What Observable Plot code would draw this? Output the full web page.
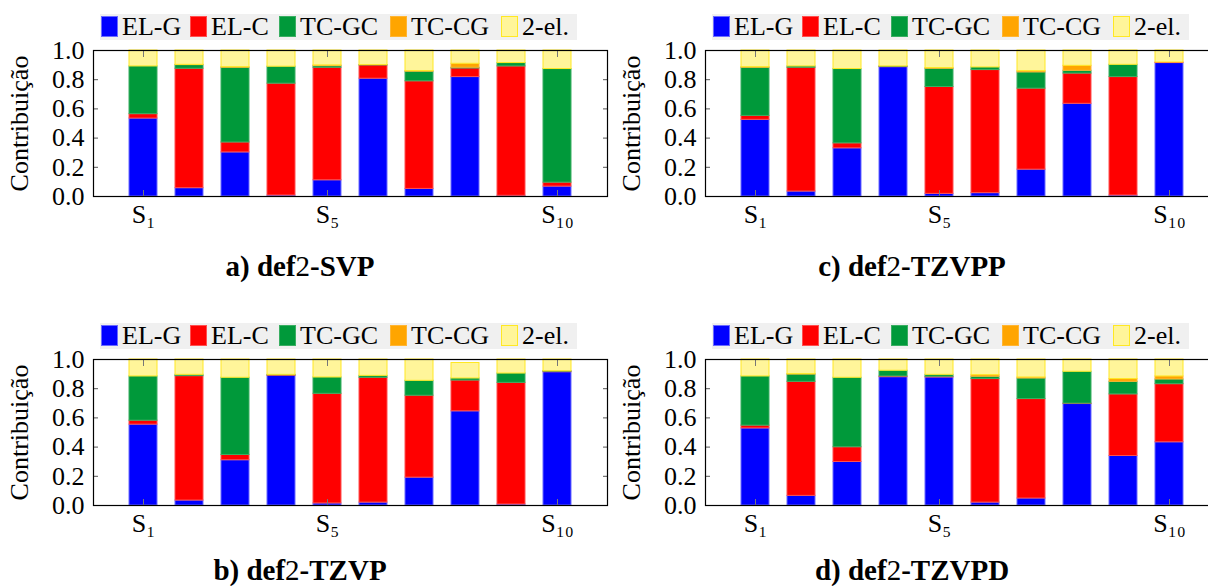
<!DOCTYPE html>
<html>
<head>
<meta charset="utf-8">
<script src="https://cdn.jsdelivr.net/npm/d3@7"></script>
<script src="https://cdn.jsdelivr.net/npm/@observablehq/plot@0.6"></script>
<style>
  html, body { margin: 0; padding: 0; background: #fff; overflow: hidden; }
  #root { position: relative; width: 1208px; height: 586px; overflow: hidden; font-family: "Liberation Serif", serif; }
  .panel { position: absolute; width: 620px; height: 300px; }
  .panel svg { position: absolute; left: 0; top: 0; }
  .legend { position: absolute; left: 100px; top: 14px; width: 477px; height: 26px; background: #f0f0f0; }
  .item { position: absolute; top: 0; height: 26px; }
  .sw { position: absolute; top: 2px; left: 0; width: 17px; height: 21px; box-sizing: border-box; }
  .lt { position: absolute; left: 21px; top: -2px; font-size: 26px; line-height: 30px; white-space: nowrap; color: #000; }
  .title { position: absolute; left: 0; width: 600px; text-align: center; font-size: 29px; line-height: 20px; font-weight: bold; color: #000; }
  .title span { font-weight: normal; }
</style>
</head>
<body>
<div id="root"></div>
<script>
// ---- categories ----
const states = ["S1","S2","S3","S4","S5","S6","S7","S8","S9","S10"];
const labeledStates = ["S1","S5","S10"];
const seriesNames = ["EL-G","EL-C","TC-GC","TC-CG","2-el."];
const seriesFill = ["#0000ff","#ff0000","#00993a","#ffa500","#fff59a"];
const seriesStroke = ["#6b6bff","#ff5050","#3aae62","#ffb534","#ffe824"];
const yTicks = [0, 0.2, 0.4, 0.6, 0.8, 1.0];

// ---- a) def2-SVP ----
const svpELG  = [0.534, 0.057, 0.302, 0.007, 0.111, 0.807, 0.052, 0.818, 0.005, 0.068];
const svpELC  = [0.030, 0.818, 0.068, 0.766, 0.771, 0.091, 0.737, 0.059, 0.886, 0.027];
const svpTCGC = [0.327, 0.025, 0.512, 0.116, 0.011, 0.002, 0.066, 0.005, 0.023, 0.778];
const svpTCCG = [0.000, 0.002, 0.004, 0.000, 0.005, 0.000, 0.004, 0.027, 0.000, 0.000];
const svp2el  = [0.109, 0.098, 0.114, 0.111, 0.102, 0.100, 0.141, 0.091, 0.086, 0.127];

// ---- b) def2-TZVP ----
const tzvpELG  = [0.554, 0.034, 0.310, 0.888, 0.014, 0.020, 0.191, 0.645, 0.007, 0.913];
const tzvpELC  = [0.027, 0.852, 0.036, 0.004, 0.751, 0.855, 0.561, 0.211, 0.833, 0.004];
const tzvpTCGC = [0.303, 0.009, 0.529, 0.003, 0.112, 0.013, 0.102, 0.014, 0.064, 0.003];
const tzvpTCCG = [0.000, 0.000, 0.000, 0.000, 0.000, 0.000, 0.000, 0.000, 0.000, 0.000];
const tzvp2el  = [0.116, 0.105, 0.125, 0.105, 0.123, 0.112, 0.146, 0.106, 0.096, 0.080];

// ---- c) def2-TZVPP ----
const tzvppELG  = [0.525, 0.034, 0.330, 0.886, 0.018, 0.023, 0.184, 0.635, 0.007, 0.914];
const tzvppELC  = [0.027, 0.848, 0.034, 0.003, 0.732, 0.843, 0.555, 0.207, 0.811, 0.004];
const tzvppTCGC = [0.330, 0.009, 0.509, 0.002, 0.125, 0.018, 0.111, 0.019, 0.084, 0.000];
const tzvppTCCG = [0.004, 0.000, 0.000, 0.000, 0.005, 0.000, 0.009, 0.034, 0.000, 0.000];
const tzvpp2el  = [0.114, 0.109, 0.127, 0.109, 0.120, 0.116, 0.141, 0.105, 0.098, 0.082];

// ---- d) def2-TZVPD ----
const tzvpdELG  = [0.528, 0.066, 0.298, 0.879, 0.877, 0.020, 0.048, 0.695, 0.339, 0.433];
const tzvpdELC  = [0.019, 0.781, 0.101, 0.005, 0.005, 0.846, 0.681, 0.003, 0.422, 0.398];
const tzvpdTCGC = [0.337, 0.050, 0.476, 0.039, 0.013, 0.016, 0.141, 0.218, 0.086, 0.032];
const tzvpdTCCG = [0.000, 0.003, 0.000, 0.000, 0.000, 0.011, 0.007, 0.000, 0.019, 0.021];
const tzvpd2el  = [0.116, 0.100, 0.125, 0.077, 0.105, 0.107, 0.123, 0.084, 0.134, 0.116];

const panels = [
  {letter: "a)", basis: "SVP",   left: 0,   top: 0,   titleTop: 256, series: [svpELG, svpELC, svpTCGC, svpTCCG, svp2el]},
  {letter: "c)", basis: "TZVPP", left: 612, top: 0,   titleTop: 256, series: [tzvppELG, tzvppELC, tzvppTCGC, tzvppTCCG, tzvpp2el]},
  {letter: "b)", basis: "TZVP",  left: 0,   top: 309, titleTop: 251, series: [tzvpELG, tzvpELC, tzvpTCGC, tzvpTCCG, tzvp2el]},
  {letter: "d)", basis: "TZVPD", left: 612, top: 309, titleTop: 251, series: [tzvpdELG, tzvpdELC, tzvpdTCGC, tzvpdTCCG, tzvpd2el]}
];

const subs = {"0":"₀","1":"₁","2":"₂","3":"₃","4":"₄","5":"₅","6":"₆","7":"₇","8":"₈","9":"₉"};
const fmtState = s => "S" + s.slice(1).split("").map(c => subs[c]).join("");
const blank = () => "";

const root = document.getElementById("root");

for (const p of panels) {
  const rows = [];
  states.forEach((s, i) => {
    seriesNames.forEach((name, k) => {
      rows.push({state: s, series: name, value: p.series[k][i], k});
    });
  });

  const chart = Plot.plot({
    width: 620,
    height: 236,
    marginLeft: 93,
    marginRight: 13,
    marginTop: 50,
    marginBottom: 40,
    style: {fontFamily: "Liberation Serif, serif", fontSize: "26px", color: "#000", background: "transparent", overflow: "visible"},
    x: {type: "band", domain: states, paddingInner: 0.4, paddingOuter: 0.72, label: null},
    y: {domain: [0, 1], label: null},
    color: {type: "identity"},
    marks: [
      Plot.barY(rows, {
        x: "state", y: "value",
        fill: d => seriesFill[d.k], stroke: d => seriesStroke[d.k], z: "series",
        strokeWidth: 1, order: null
      }),
      // inner tick marks (no labels)
      Plot.axisY({ticks: yTicks, anchor: "left", tickSize: -5, tickFormat: blank, stroke: "#555", label: null}),
      Plot.axisY({ticks: yTicks, anchor: "right", tickSize: -5, tickFormat: blank, stroke: "#555", label: null}),
      Plot.axisX({ticks: labeledStates, anchor: "bottom", tickSize: -6, tickFormat: blank, stroke: "#777", label: null}),
      Plot.axisX({ticks: labeledStates, anchor: "top", tickSize: -6, tickFormat: blank, stroke: "#777", label: null}),
      // tick labels
      Plot.axisY({ticks: yTicks, anchor: "left", tickSize: 0, tickPadding: 9, tickFormat: d3.format(".1f"),
                  label: "Contribuição", labelAnchor: "center", labelArrow: "none", labelOffset: 84}),
      Plot.axisX({ticks: labeledStates, anchor: "bottom", tickSize: 0, tickPadding: 8, tickFormat: fmtState, label: null}),
      Plot.frame({stroke: "#000", strokeWidth: 1.2})
    ]
  });

  const panel = document.createElement("div");
  panel.className = "panel";
  panel.style.left = p.left + "px";
  panel.style.top = p.top + "px";
  panel.appendChild(chart);

  const legend = document.createElement("div");
  legend.className = "legend";
  const offsets = [1, 90, 179, 290, 401];
  seriesNames.forEach((name, k) => {
    const it = document.createElement("div");
    it.className = "item";
    it.style.left = offsets[k] + "px";
    const sw = document.createElement("div");
    sw.className = "sw";
    sw.style.background = seriesFill[k];
    sw.style.border = "1px solid " + seriesStroke[k];
    const t = document.createElement("div");
    t.className = "lt";
    t.textContent = name;
    it.appendChild(sw); it.appendChild(t);
    legend.appendChild(it);
  });
  panel.appendChild(legend);

  const title = document.createElement("div");
  title.className = "title";
  title.style.top = p.titleTop + "px";
  title.innerHTML = p.letter + " def<span>2</span>-" + p.basis;
  panel.appendChild(title);

  root.appendChild(panel);
}
</script>
</body>
</html>
